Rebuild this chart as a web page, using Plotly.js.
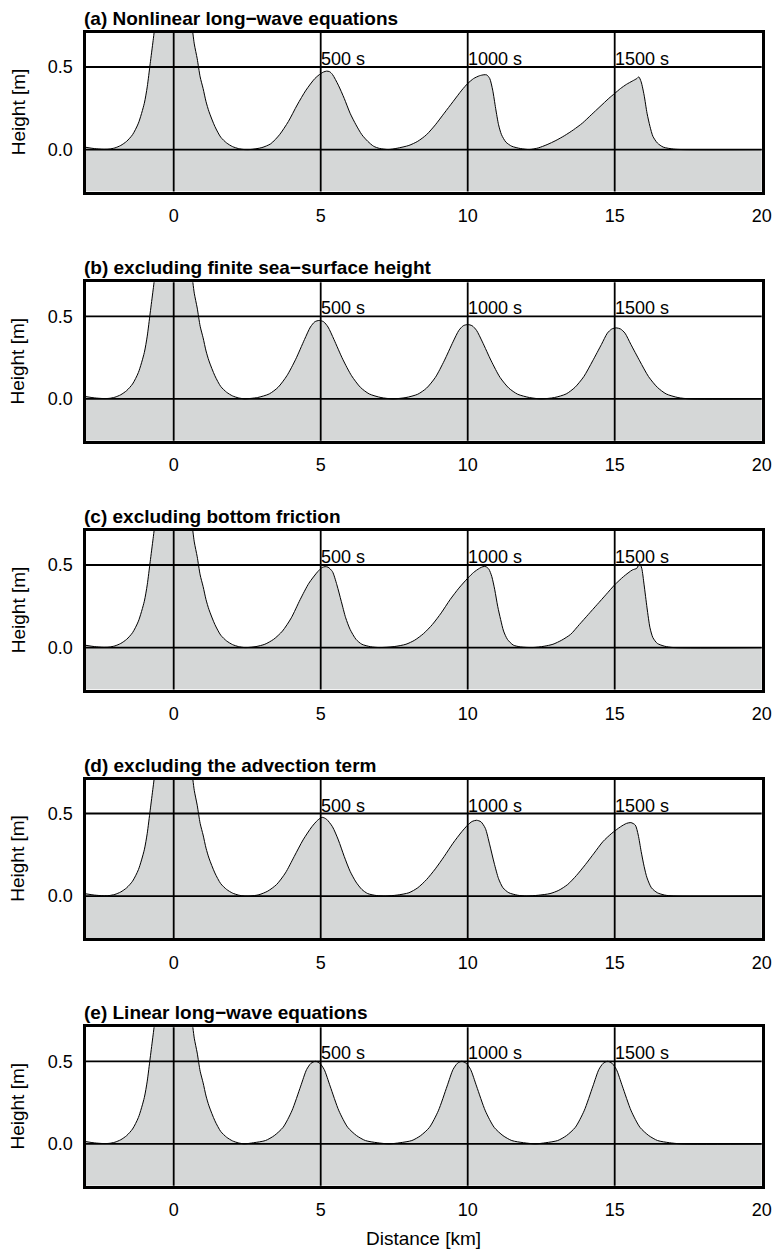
<!DOCTYPE html>
<html>
<head>
<meta charset="utf-8">
<script src="https://cdn.plot.ly/plotly-3.0.1.min.js"></script>
<style>
html,body{margin:0;padding:0;background:#fff;}
#chart{width:775px;height:1250px;}
</style>
</head>
<body>
<div id="chart"></div>
<script>
// ---------------- DATA ----------------
const panelTitles = [
  "(a) Nonlinear long\u2212wave equations",
  "(b) excluding finite sea\u2212surface height",
  "(c) excluding bottom friction",
  "(d) excluding the advection term",
  "(e) Linear long\u2212wave equations"
];
const snapLabels = ["500 s", "1000 s", "1500 s"];
const snapX = [5, 10, 15];
const verticalMarks = [0, 5, 10, 15];
const horizontalMarks = [0, 0.5];
const xTicks = [0, 5, 10, 15, 20];
const yTicks = [0, 0.5];
const yTickText = ["0.0", "0.5"];

// initial wave (t = 0), same in every panel
const initX = [-3.0,-2.7,-2.4,-2.2,-2.0,-1.8,-1.6,-1.4,-1.2,-1.0,-0.9,-0.8,-0.7,-0.6,-0.4,-0.2,0.0,0.2,0.4,0.6,0.7,0.8,0.9,1.0,1.1,1.2,1.4,1.6,1.8,2.0,2.2,2.4];
const initH = [0.014,0.006,0.002,0.003,0.01,0.025,0.05,0.09,0.16,0.28,0.38,0.52,0.66,0.80,1.02,1.16,1.2,1.16,1.02,0.78,0.64,0.55,0.44,0.37,0.29,0.23,0.14,0.075,0.04,0.018,0.006,0.0];

// (a) nonlinear
const aX = [2.6,3.0,3.3,3.6,3.9,4.2,4.5,4.8,5.0,5.1,5.2,5.3,5.4,5.6,5.8,6.0,6.2,6.4,6.6,6.8,7.0,7.3,
  7.6,8.0,8.3,8.6,8.9,9.2,9.5,9.8,10.0,10.2,10.4,10.55,10.65,10.75,10.85,10.95,11.05,11.15,11.3,11.5,11.8,12.1,
  12.4,12.7,13.0,13.3,13.6,13.9,14.2,14.5,14.8,15.0,15.2,15.4,15.6,15.75,15.82,15.9,16.0,16.1,16.2,16.3,16.45,16.65,17.0,17.3,20];
const aH = [0,0.012,0.035,0.09,0.17,0.27,0.36,0.43,0.46,0.47,0.475,0.472,0.455,0.39,0.31,0.22,0.15,0.09,0.05,0.02,0.007,0,
  0.008,0.025,0.05,0.09,0.15,0.22,0.29,0.36,0.40,0.43,0.447,0.453,0.452,0.43,0.36,0.25,0.15,0.09,0.045,0.02,0.006,0,
  0.01,0.03,0.055,0.085,0.12,0.16,0.21,0.26,0.31,0.34,0.37,0.395,0.415,0.43,0.44,0.41,0.33,0.22,0.14,0.08,0.04,0.015,0.003,0,0];

// (b) excluding finite sea-surface height
const bX = [2.45,2.85,3.25,3.55,3.85,4.15,4.45,4.65,4.8,4.95,5.1,5.25,5.45,5.75,6.05,6.35,6.65,7.05,7.45,
  7.9,8.3,8.6,8.9,9.2,9.5,9.7,9.85,10.0,10.15,10.3,10.5,10.8,11.1,11.4,11.7,12.1,12.5,
  12.95,13.35,13.65,13.95,14.25,14.55,14.75,14.9,15.05,15.2,15.35,15.55,15.85,16.15,16.45,16.75,17.15,17.55,20];
const bH = [0,0.008,0.03,0.07,0.14,0.24,0.36,0.435,0.467,0.475,0.467,0.435,0.36,0.24,0.14,0.07,0.03,0.008,0,
  0.008,0.028,0.065,0.13,0.23,0.345,0.415,0.443,0.45,0.443,0.415,0.345,0.23,0.13,0.065,0.028,0.008,0,
  0.008,0.03,0.07,0.135,0.23,0.33,0.398,0.423,0.43,0.423,0.398,0.33,0.23,0.135,0.07,0.03,0.008,0,0];

// (c) excluding bottom friction
const cX = [2.5,2.8,3.1,3.4,3.7,4.0,4.3,4.6,4.9,5.05,5.15,5.25,5.4,5.55,5.7,5.85,6.0,6.2,6.4,6.7,7.0,
  7.5,7.9,8.2,8.5,8.8,9.1,9.4,9.7,10.0,10.2,10.4,10.52,10.62,10.72,10.82,10.92,11.02,11.12,11.22,11.35,11.55,11.8,12.2,
  12.6,12.9,13.2,13.5,13.8,14.1,14.4,14.7,15.0,15.3,15.6,15.75,15.85,15.92,16.0,16.1,16.2,16.3,16.45,16.7,17.0,20];
const cH = [0,0.006,0.02,0.05,0.1,0.18,0.29,0.39,0.46,0.485,0.49,0.487,0.46,0.38,0.28,0.18,0.11,0.05,0.02,0.005,0,
  0.006,0.02,0.045,0.085,0.14,0.21,0.29,0.36,0.42,0.455,0.48,0.49,0.49,0.475,0.43,0.35,0.25,0.17,0.1,0.05,0.015,0.004,0,
  0.008,0.02,0.045,0.08,0.14,0.2,0.26,0.32,0.38,0.43,0.47,0.48,0.51,0.48,0.38,0.24,0.12,0.06,0.025,0.008,0,0];

// (d) excluding the advection term
const dX = [2.6,2.9,3.2,3.5,3.8,4.1,4.4,4.7,4.9,5.05,5.2,5.4,5.6,5.8,6.0,6.2,6.4,6.6,6.9,7.2,
  7.6,8.0,8.3,8.6,8.9,9.2,9.5,9.8,10.0,10.15,10.3,10.45,10.6,10.75,10.9,11.05,11.2,11.4,11.7,12.0,
  12.4,12.8,13.1,13.4,13.7,14.0,14.3,14.6,14.9,15.2,15.4,15.55,15.7,15.8,15.9,16.0,16.1,16.25,16.45,16.7,17.0,20];
const dH = [0,0.008,0.03,0.07,0.14,0.24,0.34,0.42,0.46,0.477,0.465,0.42,0.34,0.24,0.15,0.085,0.04,0.015,0.003,0,
  0.006,0.02,0.05,0.1,0.165,0.24,0.32,0.39,0.43,0.452,0.459,0.45,0.41,0.31,0.2,0.105,0.05,0.02,0.005,0,
  0.005,0.015,0.035,0.07,0.125,0.19,0.26,0.33,0.38,0.42,0.44,0.445,0.43,0.37,0.27,0.18,0.11,0.05,0.02,0.006,0,0];

// (e) linear
const eX = [2.72,3.12,3.42,3.72,4.02,4.32,4.52,4.67,4.82,4.97,5.12,5.32,5.62,5.92,6.22,6.52,6.92,7.32,
  7.7,8.1,8.4,8.7,9.0,9.3,9.5,9.65,9.8,9.95,10.1,10.3,10.6,10.9,11.2,11.5,11.9,12.3,
  12.66,13.06,13.36,13.66,13.96,14.26,14.46,14.61,14.76,14.91,15.06,15.26,15.56,15.86,16.16,16.46,16.86,17.26,20];
const eH = [0.007,0.02,0.05,0.1,0.2,0.35,0.45,0.488,0.5,0.488,0.45,0.35,0.2,0.1,0.05,0.02,0.007,0,
  0.007,0.02,0.05,0.1,0.2,0.35,0.45,0.488,0.5,0.488,0.45,0.35,0.2,0.1,0.05,0.02,0.007,0,
  0.007,0.02,0.05,0.1,0.2,0.35,0.45,0.488,0.5,0.488,0.45,0.35,0.2,0.1,0.05,0.02,0.007,0,0];

const panelX = [aX, bX, cX, dX, eX];
const panelH = [aH, bH, cH, dH, eH];

// ---------------- LAYOUT / STYLE ----------------
const W = 775, H = 1250;
const fillGray = "#d5d7d7";
const xRange = [-3, 20];
const yRange = [-0.254, 0.706];
const plotLeft = 85.5, plotRight = 761.7;
const panelTops = [33, 282.3, 531, 779.5, 1027.3];
const panelHeight = 158.5;
const fontFam = "'Liberation Sans', Arial, Helvetica, sans-serif";

const data = [];
const layout = {
  width: W, height: H,
  margin: {l: 0, r: 0, t: 0, b: 0},
  paper_bgcolor: "#ffffff",
  plot_bgcolor: "#ffffff",
  showlegend: false,
  font: {family: fontFam, size: 18, color: "#000"},
  shapes: [],
  annotations: []
};

const xd = [plotLeft / W, plotRight / W];

for (let i = 0; i < 5; i++) {
  const sfx = i === 0 ? "" : String(i + 1);
  const xa = "x" + sfx, ya = "y" + sfx;
  const top = panelTops[i];
  const yd = [1 - (top + panelHeight) / H, 1 - top / H];

  layout["xaxis" + sfx] = {
    domain: xd, range: xRange, anchor: ya,
    showgrid: false, zeroline: false,
    showline: true, mirror: true, linewidth: 3, linecolor: "#000",
    tickvals: xTicks, ticks: "outside", ticklen: 6, tickcolor: "rgba(0,0,0,0)",
    tickfont: {size: 18, family: fontFam, color: "#000"}
  };
  layout["yaxis" + sfx] = {
    domain: yd, range: yRange, anchor: xa,
    showgrid: false, zeroline: false,
    showline: true, mirror: true, linewidth: 3, linecolor: "#000",
    tickvals: yTicks, ticktext: yTickText, ticks: "outside", ticklen: 6, tickcolor: "rgba(0,0,0,0)",
    tickfont: {size: 18, family: fontFam, color: "#000"}
  };

  data.push({
    type: "scatter", mode: "lines", xaxis: xa, yaxis: ya,
    x: initX.concat(panelX[i]),
    y: initH.concat(panelH[i]),
    line: {color: "#000", width: 1, shape: "spline", smoothing: 0.7},
    fill: "tozeroy", fillcolor: fillGray,
    hoverinfo: "skip"
  });

  // gray band below sea level
  layout.shapes.push({
    type: "rect", xref: xa + " domain", yref: ya,
    x0: 0, x1: 1, y0: yRange[0], y1: 0,
    fillcolor: fillGray, line: {width: 0}, layer: "below"
  });
  horizontalMarks.forEach(v => layout.shapes.push({
    type: "line", xref: xa + " domain", yref: ya, x0: 0, x1: 1, y0: v, y1: v,
    line: {color: "#000", width: 1.8}, layer: "above"
  }));
  verticalMarks.forEach(v => layout.shapes.push({
    type: "line", xref: xa, yref: ya + " domain", x0: v, x1: v, y0: 0, y1: 1,
    line: {color: "#000", width: 1.8}, layer: "above"
  }));

  snapLabels.forEach((t, k) => layout.annotations.push({
    text: t, xref: xa, yref: ya, x: snapX[k], y: 0.5,
    xanchor: "left", yanchor: "bottom", showarrow: false,
    xshift: -2, yshift: -4,
    font: {size: 18, family: fontFam, color: "#000"}
  }));

  layout.annotations.push({
    text: "<b>" + panelTitles[i] + "</b>", xref: "paper", yref: "paper",
    x: plotLeft / W, y: yd[1], xanchor: "left", yanchor: "bottom",
    xshift: -4, yshift: 2, showarrow: false,
    font: {size: 19, family: fontFam, color: "#000"}
  });

  layout.annotations.push({
    text: "Height [m]", xref: "paper", yref: "paper",
    x: 18 / W, y: (yd[0] + yd[1]) / 2, xanchor: "center", yanchor: "middle",
    textangle: -90, showarrow: false,
    font: {size: 19, family: fontFam, color: "#000"}
  });
}

layout.annotations.push({
  text: "Distance [km]", xref: "paper", yref: "paper",
  x: (plotLeft + plotRight) / 2 / W, y: (H - 1238) / H,
  xanchor: "center", yanchor: "middle", showarrow: false,
  font: {size: 19, family: fontFam, color: "#000"}
});

Plotly.newPlot("chart", data, layout, {displayModeBar: false, staticPlot: true});
</script>
</body>
</html>
